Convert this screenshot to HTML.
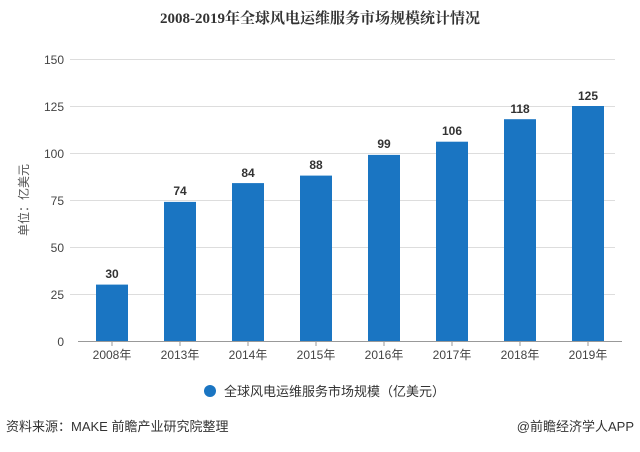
<!DOCTYPE html><html><head><meta charset="utf-8"><style>
body{margin:0;background:#fff;width:640px;height:447px;overflow:hidden;font-family:"Liberation Sans","Noto Sans CJK SC",sans-serif}
</style></head><body>
<svg width="640" height="447" xmlns="http://www.w3.org/2000/svg" font-family="Liberation Sans, Noto Sans CJK SC, sans-serif">
<text x="320" y="23" text-anchor="middle" font-size="15" font-weight="bold" fill="#333" font-family="Liberation Serif, Noto Serif CJK SC, serif">2008-2019年全球风电运维服务市场规模统计情况</text>
<g stroke="#ddd" stroke-width="1">
<line x1="70" x2="615" y1="59.5" y2="59.5"/><line x1="70" x2="615" y1="106.5" y2="106.5"/><line x1="70" x2="615" y1="153.5" y2="153.5"/><line x1="70" x2="615" y1="200.5" y2="200.5"/><line x1="70" x2="615" y1="247.5" y2="247.5"/><line x1="70" x2="615" y1="294.5" y2="294.5"/>
</g>
<line x1="78" x2="622" y1="341.5" y2="341.5" stroke="#999"/>
<g font-size="12" fill="#444" text-anchor="end">
<text x="64" y="64">150</text><text x="64" y="111">125</text><text x="64" y="158">100</text><text x="64" y="205">75</text><text x="64" y="252">50</text><text x="64" y="299">25</text><text x="64" y="346">0</text>
</g>
<text transform="translate(28,200) rotate(-90)" text-anchor="middle" font-size="12" fill="#555">单位：亿美元</text>
<g fill="#1a75c2">
<rect x="96" y="284.6" width="32" height="56.4"/>
<rect x="164" y="201.9" width="32" height="139.1"/>
<rect x="232" y="183.1" width="32" height="157.9"/>
<rect x="300" y="175.6" width="32" height="165.4"/>
<rect x="368" y="154.9" width="32" height="186.1"/>
<rect x="436" y="141.7" width="32" height="199.3"/>
<rect x="504" y="119.2" width="32" height="221.8"/>
<rect x="572" y="106" width="32" height="235"/>
</g>
<g font-size="12" font-weight="bold" fill="#333" text-anchor="middle">
<text x="112" y="278">30</text><text x="180" y="195">74</text><text x="248" y="177">84</text><text x="316" y="169">88</text><text x="384" y="148">99</text><text x="452" y="135">106</text><text x="520" y="113">118</text><text x="588" y="100">125</text>
</g>
<g stroke="#999"><line x1="112" x2="112" y1="341" y2="346"/><line x1="180" x2="180" y1="341" y2="346"/><line x1="248" x2="248" y1="341" y2="346"/><line x1="316" x2="316" y1="341" y2="346"/><line x1="384" x2="384" y1="341" y2="346"/><line x1="452" x2="452" y1="341" y2="346"/><line x1="520" x2="520" y1="341" y2="346"/><line x1="588" x2="588" y1="341" y2="346"/></g>
<g font-size="12" fill="#444" text-anchor="middle">
<text x="112" y="359">2008年</text><text x="180" y="359">2013年</text><text x="248" y="359">2014年</text><text x="316" y="359">2015年</text><text x="384" y="359">2016年</text><text x="452" y="359">2017年</text><text x="520" y="359">2018年</text><text x="588" y="359">2019年</text>
</g>
<circle cx="210" cy="391" r="6" fill="#1a75c2"/>
<text x="224" y="396" font-size="13" fill="#333">全球风电运维服务市场规模（亿美元）</text>
<text x="6" y="431" font-size="13" fill="#333">资料来源：MAKE 前瞻产业研究院整理</text>
<text x="634" y="431" font-size="13" fill="#333" text-anchor="end">@前瞻经济学人APP</text>
</svg>
</body></html>
